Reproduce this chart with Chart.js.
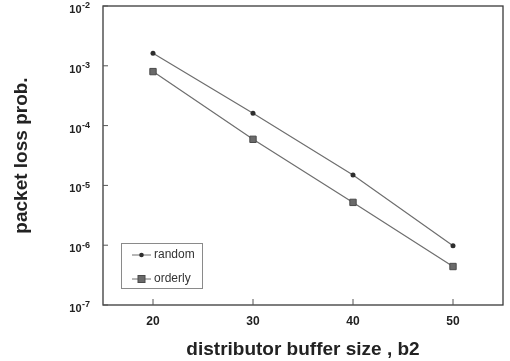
<!DOCTYPE html>
<html>
<head>
<meta charset="utf-8">
<script src="https://cdn.jsdelivr.net/npm/chart.js@4/dist/chart.umd.min.js"></script>
<style>
  html, body { margin: 0; padding: 0; background: #fff; }
  #wrap { width: 510px; height: 361px; }
</style>
</head>
<body>
<div id="wrap"><canvas id="graphCanvas" width="510" height="361"></canvas></div>
<script>
// values
const bufferSizes = [20, 30, 40, 50];
const randomLoss = [1.62e-3, 1.61e-4, 1.49e-5, 9.8e-7];
const orderlyLoss = [8.0e-4, 5.9e-5, 5.2e-6, 4.4e-7];
const yDecades = [1e-7, 1e-6, 1e-5, 1e-4, 1e-3, 1e-2];
const seriesNames = ['random', 'orderly'];

const FONT = "'Liberation Sans', Arial, Helvetica, sans-serif";
const LINE_COLOR = '#6e6e6e';

function toPoints(xs, ys) {
    return xs.map((x, i) => ({ x: x, y: ys[i] }));
}

// frame, inward ticks, 10^n labels and the boxed legend
const framePlugin = {
    id: 'frame',
    afterDraw(chart) {
        const ctx = chart.ctx;
        const area = chart.chartArea;
        const xs = chart.scales.x;
        const ys = chart.scales.y;
        ctx.save();
        ctx.strokeStyle = '#3a3a3a';
        ctx.lineWidth = 1.3;
        ctx.strokeRect(area.left, area.top, area.right - area.left, area.bottom - area.top);

        ctx.lineWidth = 1;
        ctx.strokeStyle = '#555';
        ctx.fillStyle = '#222';
        ctx.textBaseline = 'middle';
        yDecades.forEach(v => {
            const py = ys.getPixelForValue(v);
            ctx.beginPath();
            ctx.moveTo(area.left, py);
            ctx.lineTo(area.left + 5, py);
            ctx.stroke();
            const exp = String(Math.round(Math.log10(v)));
            ctx.font = 'bold 9px ' + FONT;
            const ew = ctx.measureText(exp).width;
            const ex = area.left - 13 - ew;
            ctx.textAlign = 'left';
            ctx.fillText(exp, ex, py);
            ctx.font = 'bold 11px ' + FONT;
            ctx.textAlign = 'right';
            ctx.fillText('10', ex - 0.5, py + 4);
        });
        bufferSizes.forEach(v => {
            const px = xs.getPixelForValue(v);
            ctx.beginPath();
            ctx.moveTo(px, area.bottom);
            ctx.lineTo(px, area.bottom - 6);
            ctx.stroke();
        });

        // legend
        const lx = 121, ly = 243, lw = 81, lh = 45;
        ctx.strokeStyle = '#8a8a8a';
        ctx.lineWidth = 1;
        ctx.strokeRect(lx + 0.5, ly + 0.5, lw, lh);
        chart.data.datasets.forEach((ds, i) => {
            const ry = ly + 12 + i * 24;
            ctx.strokeStyle = ds.borderColor;
            ctx.lineWidth = 1;
            ctx.beginPath();
            ctx.moveTo(lx + 11, ry);
            ctx.lineTo(lx + 30, ry);
            ctx.stroke();
            ctx.fillStyle = ds.pointBackgroundColor;
            ctx.strokeStyle = ds.pointBorderColor;
            if (ds.pointStyle === 'rect') {
                ctx.fillRect(lx + 17, ry - 3.5, 7, 7);
                ctx.strokeRect(lx + 17, ry - 3.5, 7, 7);
            } else {
                ctx.beginPath();
                ctx.arc(lx + 20.5, ry, 2.3, 0, Math.PI * 2);
                ctx.fill();
            }
            ctx.fillStyle = '#333';
            ctx.font = '12px ' + FONT;
            ctx.textAlign = 'left';
            ctx.fillText(ds.label, lx + 33, ry);
        });
        ctx.restore();
    }
};

const ctx = document.getElementById('graphCanvas');
const myChart = new Chart(ctx, {
    type: 'line',
    data: {
        datasets: [{
            label: seriesNames[0],
            data: toPoints(bufferSizes, randomLoss),
            borderColor: LINE_COLOR,
            borderWidth: 1.2,
            pointStyle: 'circle',
            pointRadius: 2.5,
            pointBackgroundColor: '#2e2e2e',
            pointBorderColor: '#2e2e2e',
            pointBorderWidth: 0,
            fill: false
        }, {
            label: seriesNames[1],
            data: toPoints(bufferSizes, orderlyLoss),
            borderColor: LINE_COLOR,
            borderWidth: 1.2,
            pointStyle: 'rect',
            pointRadius: 4.5,
            pointBackgroundColor: '#6a6a6a',
            pointBorderColor: '#4a4a4a',
            pointBorderWidth: 1,
            fill: false
        }]
    },
    options: {
        responsive: false,
        animation: false,
        layout: { padding: { top: 6, right: 7, left: 0, bottom: 0 } },
        plugins: {
            legend: { display: false },
            tooltip: { enabled: false }
        },
        scales: {
            x: {
                type: 'linear',
                min: 15,
                max: 55,
                afterBuildTicks: scale => { scale.ticks = bufferSizes.map(v => ({ value: v })); },
                afterFit: scale => { scale.height = 56; },
                grid: { display: false, drawTicks: false },
                border: { display: false },
                ticks: {
                    padding: 9,
                    color: '#222',
                    font: { family: FONT, size: 12, weight: 'bold' }
                },
                title: {
                    display: true,
                    text: 'distributor buffer size , b2',
                    color: '#222',
                    font: { family: FONT, size: 19, weight: 'bold' },
                    padding: { top: 0, bottom: 0 }
                }
            },
            y: {
                type: 'logarithmic',
                min: 1e-7,
                max: 1e-2,
                afterBuildTicks: scale => { scale.ticks = yDecades.map(v => ({ value: v })); },
                afterFit: scale => { scale.width = 103; },
                grid: { display: false, drawTicks: false },
                border: { display: false },
                ticks: { display: false },
                title: {
                    display: true,
                    text: 'packet loss prob.',
                    color: '#222',
                    font: { family: FONT, size: 19, weight: 'bold' },
                    padding: { top: 10, bottom: 0 }
                }
            }
        }
    },
    plugins: [framePlugin]
});
</script>
</body>
</html>
